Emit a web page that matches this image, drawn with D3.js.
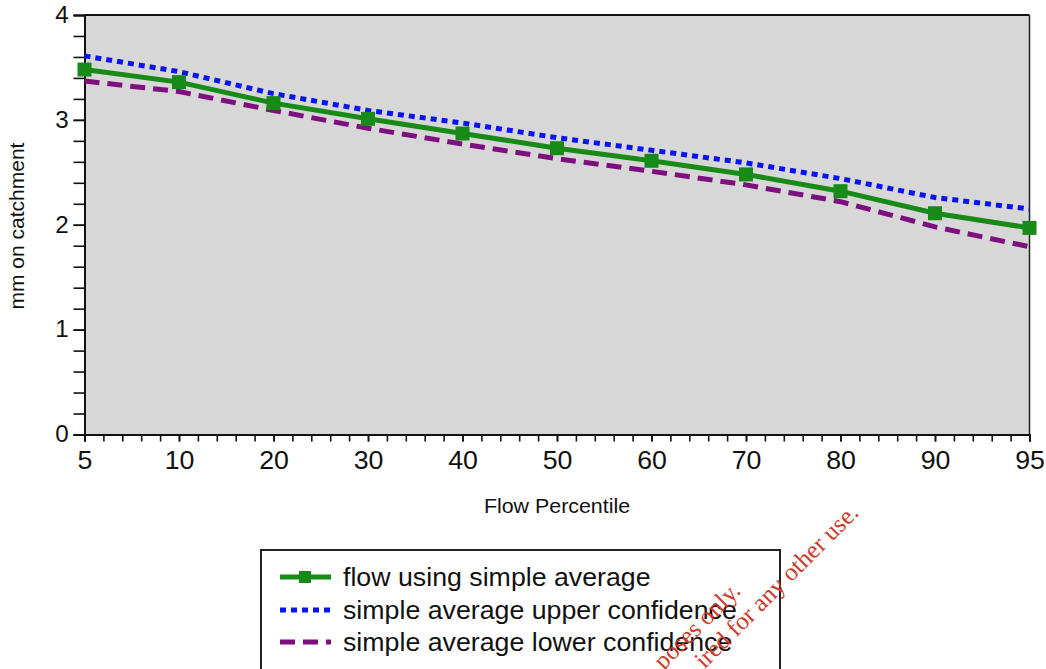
<!DOCTYPE html>
<html><head><meta charset="utf-8">
<script src="https://cdn.jsdelivr.net/npm/d3@7"></script>
<style>
html,body{margin:0;padding:0;background:#fff;}
svg{display:block;font-family:Arial,"Liberation Sans",sans-serif;}
</style></head>
<body>
<svg id="chart" width="1046" height="669"></svg>
<script>
const categories = ["5","10","20","30","40","50","60","70","80","90","95"];
const flowAvg  = [3.48,3.36,3.16,3.01,2.87,2.73,2.61,2.48,2.32,2.11,1.97];
const upperConf= [3.61,3.46,3.25,3.09,2.97,2.83,2.71,2.59,2.44,2.26,2.15];
const lowerConf= [3.37,3.27,3.09,2.92,2.77,2.63,2.51,2.38,2.22,1.98,1.79];
const yTicks = [0,1,2,3,4];
const seriesNames = ["flow using simple average","simple average upper confidence","simple average lower confidence"];

const svg = d3.select("#chart");
const L = 84.5, R = 1029.5, T = 15, B = 434.5;
const SX = 1.07; // slight horizontal stretch of the original's type

const x = d3.scalePoint().domain(categories).range([L, R]).padding(0);
const y = d3.scaleLinear().domain([0, 4]).range([B, T]);

// plot background
svg.append("rect").attr("x", L).attr("y", T).attr("width", R - L).attr("height", B - T)
  .attr("fill", "#d7d7d7");
// top & right border
svg.append("line").attr("x1", L).attr("x2", R).attr("y1", T).attr("y2", T)
  .attr("stroke", "#111").attr("stroke-width", 2);
svg.append("line").attr("x1", R).attr("x2", R).attr("y1", T).attr("y2", B)
  .attr("stroke", "#222").attr("stroke-width", 1.5);

// y axis with minor ticks
const yMinor = d3.range(0, 4.0001, 0.2);
svg.append("g").attr("transform", `translate(${L},0)`)
  .call(d3.axisLeft(y).tickValues(yMinor).tickSize(11).tickFormat(""))
  .call(g => g.select(".domain").attr("stroke", "#111").attr("stroke-width", 2))
  .call(g => g.selectAll(".tick line").attr("stroke", "#111").attr("stroke-width", 1.6));
svg.append("g").attr("transform", `translate(${L},0)`)
  .call(d3.axisLeft(y).tickValues(yTicks).tickSize(11).tickPadding(4).tickFormat(d3.format("d")))
  .call(g => g.select(".domain").remove())
  .call(g => g.selectAll(".tick line").attr("stroke", "#111").attr("stroke-width", 1.6))
  .call(g => g.selectAll(".tick text").attr("font-size", 23).attr("fill", "#111")
     .attr("transform", "scale(1.05,1)")
     .attr("font-family", "Arial, 'Liberation Sans', sans-serif"));

// x axis with minor ticks (5 subdivisions between categories)
const idx = d3.scaleLinear().domain([0, categories.length - 1]).range([L, R]);
const xMinor = d3.range(0, (categories.length - 1) * 5 + 1).map(i => i / 5);
svg.append("g").attr("transform", `translate(0,${B})`)
  .call(d3.axisBottom(idx).tickValues(xMinor).tickSize(7).tickFormat(""))
  .call(g => g.select(".domain").attr("stroke", "#111").attr("stroke-width", 2))
  .call(g => g.selectAll(".tick line").attr("stroke", "#111").attr("stroke-width", 1.6));
svg.append("g").attr("transform", `translate(0,${B})`)
  .call(d3.axisBottom(x).tickSize(7).tickPadding(10))
  .call(g => g.select(".domain").remove())
  .call(g => g.selectAll(".tick line").attr("stroke", "#111").attr("stroke-width", 1.6))
  .call(g => g.selectAll(".tick text").attr("font-size", 25).attr("fill", "#111")
     .attr("transform", `scale(${SX},1)`)
     .attr("font-family", "Arial, 'Liberation Sans', sans-serif"));

// axis titles
svg.append("text").attr("transform", `translate(${(L + R) / 2},513) scale(${SX},1)`).attr("text-anchor", "middle")
  .attr("font-size", 20).attr("fill", "#111").text("Flow Percentile");
svg.append("text").attr("transform", "translate(24,226) rotate(-90)").attr("text-anchor", "middle")
  .attr("font-size", 21).attr("fill", "#111").text("mm on catchment");

// lines
const line = d3.line().x((d, i) => x(categories[i])).y(d => y(d));
svg.append("path").datum(upperConf).attr("d", line).attr("fill", "none")
  .attr("stroke", "#0a14f0").attr("stroke-width", 5).attr("stroke-dasharray", "6,5");
svg.append("path").datum(lowerConf).attr("d", line).attr("fill", "none")
  .attr("stroke", "#7e0f7e").attr("stroke-width", 5).attr("stroke-dasharray", "15,8");
svg.append("path").datum(flowAvg).attr("d", line).attr("fill", "none")
  .attr("stroke", "#178a17").attr("stroke-width", 5);
const ms = 14;
svg.append("g").selectAll("rect").data(flowAvg).join("rect")
  .attr("x", (d, i) => x(categories[i]) - ms / 2).attr("y", d => y(d) - ms / 2)
  .attr("width", ms).attr("height", ms).attr("fill", "#178a17");

// legend
const lg = svg.append("g");
lg.append("rect").attr("x", 261).attr("y", 550).attr("width", 519).attr("height", 140)
  .attr("fill", "#fff").attr("stroke", "#222").attr("stroke-width", 2);
const rows = [577, 610, 642];
const styles = [
  {stroke: "#178a17", dash: null},
  {stroke: "#0a14f0", dash: "6,5"},
  {stroke: "#7e0f7e", dash: "15,8"}
];
seriesNames.forEach((name, i) => {
  const ly = rows[i];
  lg.append("line").attr("x1", 280).attr("x2", 331).attr("y1", ly).attr("y2", ly)
    .attr("stroke", styles[i].stroke).attr("stroke-width", 5)
    .attr("stroke-dasharray", styles[i].dash);
  if (i === 0) lg.append("rect").attr("x", 299).attr("y", ly - 6).attr("width", 12).attr("height", 12)
    .attr("fill", "#178a17");
  lg.append("text").attr("transform", `translate(343,${ly + 9}) scale(${SX},1)`)
    .attr("font-size", 25).attr("fill", "#111").text(name);
});

// watermark (visible fragments)
const wm = svg.append("g").attr("fill", "#cc3b2b").attr("font-family", "'Liberation Serif','Times New Roman',serif")
  .attr("font-size", 25).attr("text-anchor", "end");
wm.append("text").attr("transform", "translate(742,592) rotate(-45)").text("poses only.");
wm.append("text").attr("transform", "translate(860,514) rotate(-45)").text("ired for any other use.");
</script>
</body></html>
